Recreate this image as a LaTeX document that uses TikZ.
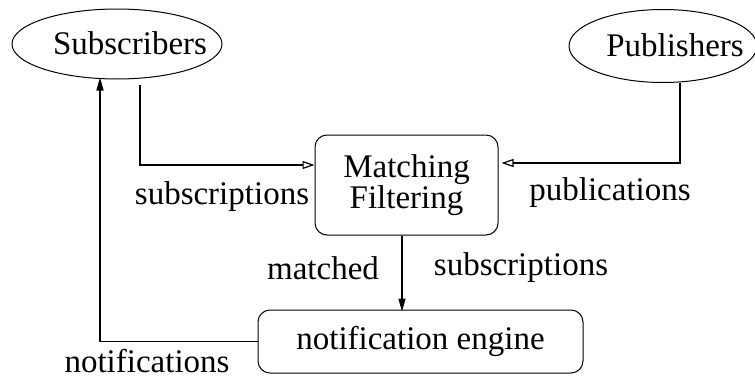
\documentclass[tikz,border=0pt]{standalone}
\usepackage{fontspec}
\setmainfont{Liberation Serif}
\usetikzlibrary{arrows.meta,shapes.geometric}
\begin{document}
\begin{tikzpicture}[x=1pt,y=-1pt,
  every node/.style={font=\fontsize{33}{36}\selectfont},
  actor/.style={draw,ellipse,line width=1pt,minimum width=210pt,minimum height=70pt,inner sep=0pt},
  proc/.style={draw,rounded corners=12pt,line width=1pt,align=center,inner sep=0pt},
  link/.style={line width=1.4pt},
  openhead/.style={-{Triangle[open,length=12pt,width=8pt,line width=1.2pt]}},
  fullhead/.style={-{Triangle[length=13pt,width=7pt]}},
  lbl/.style={inner sep=0pt}]
\useasboundingbox (0,0) rectangle (755,383);

% actors: outline and caption (caption sits a little right of centre)
\node[actor] (sub) at (117,44) {};
\node[lbl] (subtext) at (130,43) {Subscribers};
\node[actor,minimum width=188pt,minimum height=73pt] (pub) at (663,46) {};
\node[lbl] (pubtext) at (675,45) {Publishers};

\node[proc,minimum width=183pt,minimum height=100pt] (match) at (406.5,185) {Matching\\[-5pt]Filtering};
\node[proc,minimum width=325pt,minimum height=63pt] (notif) at (420.5,341.5) {notification engine};

\coordinate (s1) at (140,85);
\coordinate (p1) at (680,83);
\draw[link,openhead] (s1) |- (match.west |- 0,165);
\draw[link,openhead] (p1) |- ([xshift=3pt]match.east |- 0,163);
\draw[link,fullhead] (match.south -| 402,0) -- ([yshift=-2pt]notif.north -| 402,0);
\draw[link,fullhead] (notif.west) -| ([yshift=2pt]sub.south -| 100,0);

\node[lbl] (l1) at (222,197) {subscriptions};
\node[lbl] (l2) at (610,193) {publications};
\node[lbl] (l3) at (323,268) {matched};
\node[lbl] (l4) at (521,268) {subscriptions};
\node[lbl] (l5) at (147,361) {notifications};
\end{tikzpicture}
\end{document}
